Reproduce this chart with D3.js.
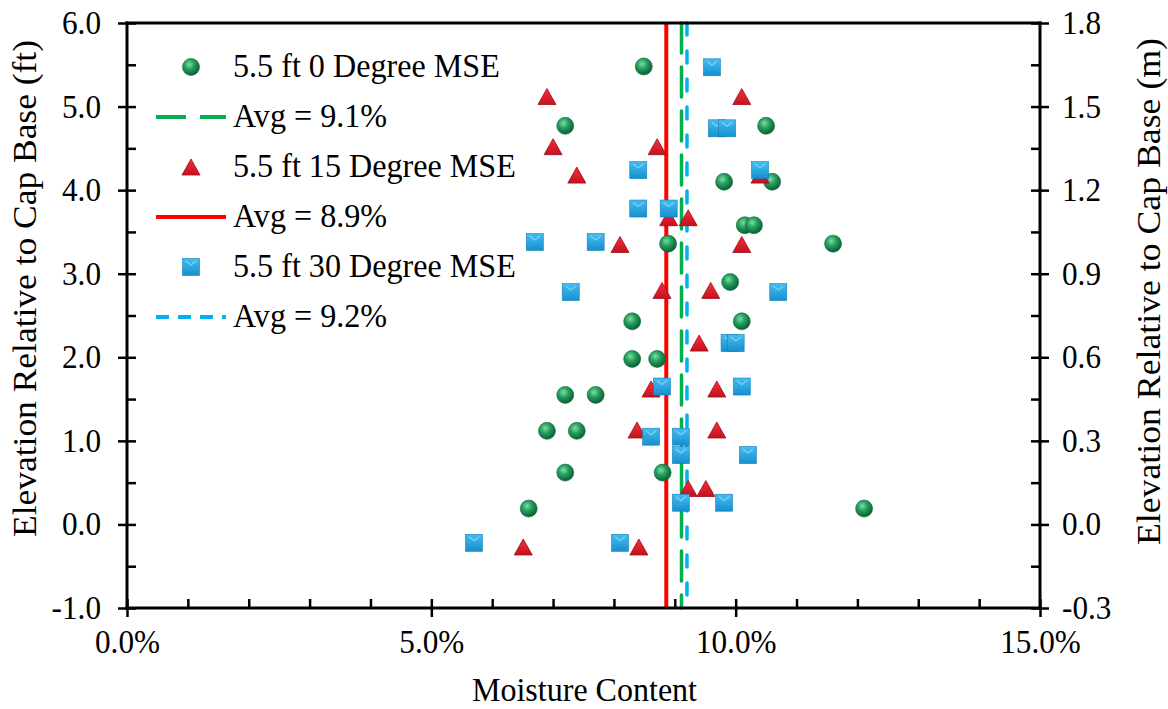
<!DOCTYPE html>
<html>
<head>
<meta charset="utf-8">
<script src="https://cdn.jsdelivr.net/npm/d3@7"></script>
<style>
  html, body { margin: 0; padding: 0; background: #fff; }
  svg text { font-family: "Liberation Serif", "Times New Roman", serif; fill: #000; }
</style>
</head>
<body>
<svg id="chart" width="1168" height="709"></svg>
<script>
// ---------- data ----------
const xTicks = [0, 5, 10, 15];
const xMinorTicks = [1, 2, 3, 4, 6, 7, 8, 9, 11, 12, 13, 14];
const yTicks = [-1, 0, 1, 2, 3, 4, 5, 6];
const yMinorTicks = [-0.5, 0.5, 1.5, 2.5, 3.5, 4.5, 5.5];
const y2Ticks = [-0.3, 0, 0.3, 0.6, 0.9, 1.2, 1.5, 1.8];
const y2MinorTicks = [-0.15, 0.15, 0.45, 0.75, 1.05, 1.35, 1.65];

const seriesNames = ["5.5 ft 0 Degree MSE", "5.5 ft 15 Degree MSE", "5.5 ft 30 Degree MSE"];
const avgLabels = ["Avg = 9.1%", "Avg = 8.9%", "Avg = 9.2%"];
const avgValues = [9.11, 8.86, 9.20];

const deg0X = [8.49, 7.20, 10.50, 9.81, 10.60, 10.15, 10.30, 8.89, 11.60, 9.91, 8.30, 10.10, 8.30, 8.71, 7.20, 7.70, 6.90, 7.39, 7.20, 8.80, 6.60, 12.11];
const deg0Y = [5.48, 4.77, 4.77, 4.10, 4.10, 3.58, 3.58, 3.36, 3.36, 2.90, 2.43, 2.43, 1.98, 1.98, 1.55, 1.55, 1.12, 1.12, 0.62, 0.62, 0.19, 0.19];

const deg15X = [6.90, 10.10, 7.00, 8.71, 7.39, 10.40, 8.90, 9.22, 8.10, 10.10, 8.79, 9.59, 9.40, 8.61, 9.69, 8.38, 9.69, 9.22, 9.51, 6.51, 8.41];
const deg15Y = [5.12, 5.12, 4.52, 4.52, 4.18, 4.18, 3.67, 3.67, 3.35, 3.35, 2.80, 2.80, 2.17, 1.62, 1.62, 1.13, 1.13, 0.43, 0.43, -0.27, -0.27];

const deg30X = [9.61, 9.69, 9.86, 8.40, 10.40, 8.40, 8.90, 6.70, 7.70, 7.29, 10.70, 9.90, 10.00, 8.79, 10.10, 8.61, 9.10, 9.10, 10.20, 9.10, 9.81, 5.70, 8.10];
const deg30Y = [5.47, 4.74, 4.74, 4.24, 4.24, 3.78, 3.78, 3.38, 3.38, 2.78, 2.78, 2.17, 2.17, 1.65, 1.65, 1.05, 1.05, 0.83, 0.83, 0.26, 0.26, -0.22, -0.22];

// ---------- layout ----------
const L = 127, R = 1040, T = 23, B = 608;
const svg = d3.select("#chart");
const x = d3.scaleLinear().domain([0, 15]).range([L, R]);
const y = d3.scaleLinear().domain([-1, 6]).range([B, T]);
const y2 = d3.scaleLinear().domain([-0.3, 1.8]).range([B, T]);

const defs = svg.append("defs");
const gG = defs.append("radialGradient").attr("id", "gSphere").attr("cx", "40%").attr("cy", "35%").attr("r", "65%");
gG.append("stop").attr("offset", "0%").attr("stop-color", "#7fdca6");
gG.append("stop").attr("offset", "45%").attr("stop-color", "#24a05e");
gG.append("stop").attr("offset", "100%").attr("stop-color", "#0b5e34");
const gR = defs.append("linearGradient").attr("id", "gTri").attr("x1", "0").attr("y1", "0").attr("x2", "0").attr("y2", "1");
gR.append("stop").attr("offset", "0%").attr("stop-color", "#f0303c");
gR.append("stop").attr("offset", "100%").attr("stop-color", "#c8101e");
const gB = defs.append("linearGradient").attr("id", "gSq").attr("x1", "0").attr("y1", "0").attr("x2", "0").attr("y2", "1");
gB.append("stop").attr("offset", "0%").attr("stop-color", "#46bdf0");
gB.append("stop").attr("offset", "100%").attr("stop-color", "#1590cf");

const fontTick = 33, fontTitle = 33, fontLegend = 34;
const fmt1 = d => d3.format(".1f")(d).replace("\u2212", "-");

// ---------- average lines ----------
const avgStyles = [
  { color: "#00b050", width: 3.5, dash: "30,14" },
  { color: "#ff0000", width: 4, dash: null },
  { color: "#00b0f0", width: 3.5, dash: "12,16" }
];
const avgG = svg.append("g");
avgValues.forEach((v, i) => {
  const st = avgStyles[i];
  const ln = avgG.append("line")
    .attr("x1", x(v)).attr("x2", x(v)).attr("y1", T).attr("y2", B)
    .attr("stroke", st.color).attr("stroke-width", st.width);
  if (st.dash) ln.attr("stroke-dasharray", st.dash).attr("stroke-linecap", "round");
});

// ---------- markers ----------
function triPath(cx, cy, w, h) {
  return `M${cx},${cy - h / 2}L${cx + w / 2},${cy + h / 2}L${cx - w / 2},${cy + h / 2}Z`;
}
function drawCircle(g, cx, cy) {
  g.append("circle").attr("cx", cx).attr("cy", cy).attr("r", 8.5)
    .attr("fill", "url(#gSphere)").attr("stroke", "#0e6a3a").attr("stroke-width", 0.6);
}
function drawTri(g, cx, cy) {
  g.append("path").attr("d", triPath(cx, cy, 18, 16))
    .attr("fill", "url(#gTri)").attr("stroke", "#9a0c16").attr("stroke-width", 0.8);
}
function drawSq(g, cx, cy) {
  g.append("rect").attr("x", cx - 8.5).attr("y", cy - 8.5).attr("width", 17).attr("height", 17)
    .attr("fill", "url(#gSq)").attr("stroke", "#137fb8").attr("stroke-width", 0.6);
  g.append("path").attr("d", `M${cx - 5},${cy - 6}L${cx},${cy - 2}L${cx + 5},${cy - 6}`)
    .attr("fill", "none").attr("stroke", "#8fdcff").attr("stroke-width", 1.2).attr("opacity", 0.8);
}

const mG = svg.append("g");
deg0X.forEach((v, i) => drawCircle(mG, x(v), y(deg0Y[i])));
deg15X.forEach((v, i) => drawTri(mG, x(v), y(deg15Y[i])));
deg30X.forEach((v, i) => drawSq(mG, x(v), y(deg30Y[i])));

// ---------- axes ----------
function styleAxis(g) {
  g.selectAll(".domain").remove();
  g.selectAll(".tick line").attr("stroke", "#000").attr("stroke-width", 2.5);
  g.selectAll("text").style("font-size", fontTick + "px").attr("fill", "#000");
}
// bottom
const xb = svg.append("g").attr("transform", `translate(0,${B})`)
  .call(d3.axisBottom(x).tickValues(xTicks).tickSize(9).tickPadding(13).tickFormat(d => d.toFixed(1) + "%"));
styleAxis(xb);
const xbIn = svg.append("g").attr("transform", `translate(0,${B})`)
  .call(d3.axisBottom(x).tickValues(xTicks.concat(xMinorTicks)).tickSize(-9).tickFormat(""));
styleAxis(xbIn);
// left
const yl = svg.append("g").attr("transform", `translate(${L},0)`)
  .call(d3.axisLeft(y).tickValues(yTicks).tickSize(9).tickPadding(17).tickFormat(fmt1));
styleAxis(yl);
const ylIn = svg.append("g").attr("transform", `translate(${L},0)`)
  .call(d3.axisLeft(y).tickValues(yTicks.concat(yMinorTicks)).tickSize(-9).tickFormat(""));
styleAxis(ylIn);
// right
const yr = svg.append("g").attr("transform", `translate(${R},0)`)
  .call(d3.axisRight(y2).tickValues(y2Ticks).tickSize(9).tickPadding(13).tickFormat(fmt1));
styleAxis(yr);
const yrIn = svg.append("g").attr("transform", `translate(${R},0)`)
  .call(d3.axisRight(y2).tickValues(y2Ticks.concat(y2MinorTicks)).tickSize(-9).tickFormat(""));
styleAxis(yrIn);

// frame lines
const frame = svg.append("g").attr("stroke", "#000").attr("stroke-width", 3).attr("stroke-linecap", "square");
frame.append("line").attr("x1", L).attr("x2", R).attr("y1", T).attr("y2", T);
frame.append("line").attr("x1", L).attr("x2", R).attr("y1", B).attr("y2", B);
frame.append("line").attr("x1", L).attr("x2", L).attr("y1", T).attr("y2", B);
frame.append("line").attr("x1", R).attr("x2", R).attr("y1", T).attr("y2", B);

// ---------- legend ----------
const leg = svg.append("g");
const rowY0 = 67, rowStep = 50, symX = 191, lineX1 = 156, lineX2 = 226, textX = 233;
const markerFns = [drawCircle, drawTri, drawSq];
for (let i = 0; i < 3; i++) {
  const yM = rowY0 + rowStep * (2 * i);
  const yA = yM + rowStep;
  markerFns[i](leg, symX, yM);
  leg.append("text").attr("class", "cond").attr("x", textX).attr("y", yM + 10).style("font-size", fontLegend + "px").text(seriesNames[i]);
  const st = avgStyles[i];
  const ln = leg.append("line").attr("x1", lineX1).attr("x2", lineX2).attr("y1", yA).attr("y2", yA)
    .attr("stroke", st.color).attr("stroke-width", 4);
  if (i === 0) ln.attr("stroke-dasharray", "30,14");
  if (i === 2) ln.attr("stroke-dasharray", "13,9");
  leg.append("text").attr("class", "cond").attr("x", textX).attr("y", yA + 10).style("font-size", fontLegend + "px").text(avgLabels[i]);
}

// condense glyphs horizontally like the reference (tall, narrow serif)
svg.selectAll(".tick text, text.cond").each(function () {
  const t = this.textContent;
  if (!t) return;
  const w = this.getComputedTextLength();
  d3.select(this).attr("textLength", w * 0.945).attr("lengthAdjust", "spacingAndGlyphs");
});

// ---------- titles ----------
svg.append("text").attr("x", 584.5).attr("y", 701).attr("text-anchor", "middle")
  .attr("textLength", 225).attr("lengthAdjust", "spacingAndGlyphs")
  .style("font-size", fontTitle + "px").text("Moisture Content");
svg.append("text").attr("transform", `translate(36,288.5) rotate(-90)`).attr("text-anchor", "middle")
  .attr("textLength", 497).attr("lengthAdjust", "spacingAndGlyphs")
  .style("font-size", fontTitle + "px").text("Elevation Relative to Cap Base (ft)");
svg.append("text").attr("transform", `translate(1160,291.5) rotate(-90)`).attr("text-anchor", "middle")
  .attr("textLength", 507).attr("lengthAdjust", "spacingAndGlyphs")
  .style("font-size", fontTitle + "px").text("Elevation Relative to Cap Base (m)");
</script>
</body>
</html>
